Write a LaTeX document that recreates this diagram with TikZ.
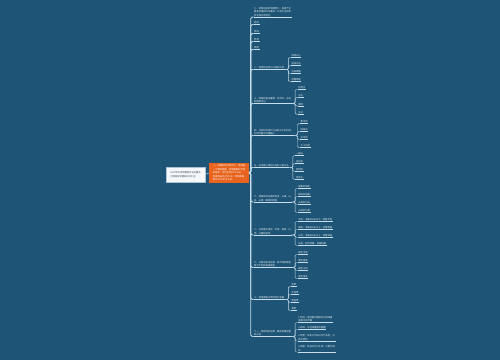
\documentclass[tikz,border=0pt]{standalone}
\usepackage{fontspec}
\setmainfont{Noto Sans CJK SC}
\definecolor{bg}{RGB}{30,84,117}
\definecolor{lc}{RGB}{200,222,235}
\definecolor{tc}{RGB}{236,243,247}
\definecolor{og}{RGB}{232,100,30}
\definecolor{rootfill}{RGB}{245,248,250}
\definecolor{rootline}{RGB}{170,195,210}
\definecolor{roottext}{RGB}{50,60,70}
\newcommand\mygroup[2]{%
  \coordinate (#1x) at ([xshift=6pt]#1.south east);
  \foreach \yy/\lab [count=\i] in {#2} {
    \node[kid] (#1-\i) at (#1x |- 0,\yy) {\lab};
    \draw[conn] (#1.south east) -- ++(3.5,0) |- (#1-\i.south west);
    \draw[conn] (#1-\i.south west) -- (#1-\i.south east);
  }}
\begin{document}
\begin{tikzpicture}[x=1pt,y=-1pt,
  every node/.style={font=\fontsize{2.3}{3.5}\selectfont},
  conn/.style={draw=lc, line width=0.45pt, rounded corners=1.2pt},
  trunk/.style={draw=lc, line width=0.8pt, rounded corners=1.5pt},
  topic/.style={anchor=south west, inner sep=0.5pt, text=tc, align=left},
  kid/.style={anchor=south west, inner sep=0.5pt, text=tc, align=left},
  rootbox/.style={draw=rootline, line width=0.4pt, fill=rootfill, text=roottext, align=left, minimum width=39pt, minimum height=15pt, inner sep=1pt},
  orangebox/.style={fill=og, text=white, align=left, minimum width=40pt, minimum height=20pt, inner xsep=2.5pt, inner ysep=1pt}
]
\fill[bg] (0,0) rectangle (500,360);

\node[rootbox] (R) at (185.5,174.5) {2017年中考地理常识记忆要点\\之地球与地图知识点汇总};
\node[orangebox] (O) at (229,173) {一、地球的形状和大小：地球是\\一个两极稍扁、赤道略鼓的不规\\则球体。平均半径6371千米，\\赤道周长约4万千米，地球表面\\积为5.1亿平方千米。};
\draw[conn] (R.east) -- (O.west);

% level-1 topics
\node[topic] (t1) at (253.5,17) {七、地球运动的地理意义：自转产生\\昼夜交替和时间差异；公转产生四季\\变化和五带划分。};
\node[topic] (t2) at (253.5,24.5) {经线};
\node[topic] (t3) at (253.5,33.5) {纬线};
\node[topic] (t4) at (253.5,41.5) {经度};
\node[topic] (t5) at (253.5,49.5) {纬度};
\node[topic] (A) at (253.5,69.5) {二、地球的自转与公转的比较};
\node[topic] (B) at (253.5,103.5) {三、地图的基本要素：比例尺、方向\\和图例注记};
\node[topic] (C) at (253.5,135.5) {四、比例尺的表示方法和大小的比较：\\比例尺越大范围越小};
\node[topic] (D) at (253.5,167.5) {五、在地图上辨别方向的三种方法};
\node[topic] (E) at (253.5,202) {六、等高线地形图的判读：山峰、山\\谷、山脊、鞍部和陡崖};
\node[topic] (F) at (253.5,235) {八、五种基本地形：平原、高原、山\\地、丘陵和盆地};
\node[topic] (G) at (253.5,267.5) {九、分层设色地形图：用不同的颜色\\表示不同的海拔高度};
\node[topic] (H) at (253.5,299.5) {十、地球表面五带的划分依据};
\node[topic] (I) at (253.5,336.5) {十一、经纬网的应用：确定地理位置\\和方向};

\foreach \n in {t1,t2,t3,t4,t5,A,B,C,D,E,F,G,H,I} {
  \draw[trunk] (O.east) -- ++(1.5,0) |- (\n.south west);
  \draw[conn] (\n.south west) -- (\n.south east);
}

\mygroup{A}{57.5/绕转中心,65.5/运动方向,73.5/运动周期,81.5/地理现象}
\mygroup{B}{89.5/比例尺,97.7/方向,105.9/图例,114.1/注记}
\mygroup{C}{123.5/数字式,131.5/线段式,139.5/文字式,147.5/大小比较}
\mygroup{D}{155.5/一般法,163.5/指向标,171.5/经纬网,179.5/综合法}
\mygroup{E}{188.5/密集处坡陡,196.5/稀疏处坡缓,204.5/凸高处为谷,212.5/凸低处为脊}
\mygroup{F}{221.5/平原：海拔200米以下，地面平坦,229.5/高原：海拔500米以上，边缘陡峭,237.5/山地：海拔500米以上，坡度较陡,245.5/丘陵：起伏和缓，坡度较缓}
\mygroup{G}{254.5/绿色平原,262.5/黄色高原,270.5/褐色山地,278.5/蓝色海洋}
\mygroup{H}{286.5/热带,294.5/北温带,302.5/南温带,310.5/寒带}
\mygroup{I}{322.5/1.经线：连接南北两极并与纬线垂\\直相交的半圆,329.5/2.纬线：与经线垂直的圆圈,341/3.经度：本初子午线以东为东经，以\\西为西经,352/4.纬度：赤道以北为北纬，以南为南\\纬}
\end{tikzpicture}
\end{document}
